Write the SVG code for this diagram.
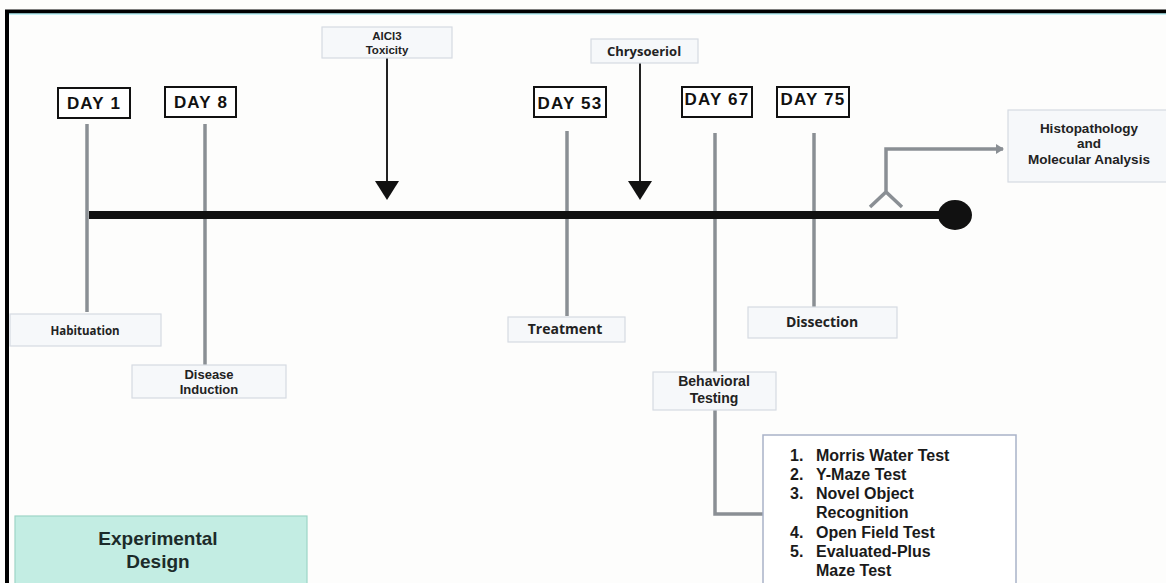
<svg xmlns="http://www.w3.org/2000/svg" width="1166" height="583" viewBox="0 0 1166 583">
<style>
.lbl{fill:#f6f8fa;stroke:#d6dbe2;stroke-width:1.2}
.day{fill:#fff;stroke:#111;stroke-width:2}
.dt{font-family:"Liberation Sans",Arial,sans-serif;font-weight:bold;font-size:17px;letter-spacing:1.2px;fill:#111;text-anchor:middle}
.t{font-family:"Open Sans","Liberation Sans",sans-serif;font-weight:bold;fill:#222;text-anchor:middle}
.t2{font-family:"Liberation Sans",Arial,sans-serif;font-weight:bold;fill:#222;text-anchor:middle}
.vl{stroke:#8a8f94;stroke-width:3.5;fill:none}
.ar{stroke:#222;stroke-width:2;fill:none}
.li{font-family:"Liberation Sans",Arial,sans-serif;font-weight:bold;font-size:16px;fill:#1a1a1a}
</style>
<defs>
<marker id="gh" markerWidth="8" markerHeight="10" refX="7" refY="5" orient="auto" markerUnits="userSpaceOnUse">
<path d="M0,0 L8,5 L0,10 Z" fill="#8a8f94"/>
</marker>
</defs>
<rect x="0" y="0" width="1166" height="583" fill="#fdfdfc"/>
<path d="M7,583 V11.5 H1166" fill="none" stroke="#000" stroke-width="4"/>
<line x1="9" y1="14" x2="1166" y2="14" stroke="#8ee6ee" stroke-width="1"/>

<g id="connectors">
<line class="vl" x1="87" y1="124" x2="87" y2="312"/>
<line class="vl" x1="205" y1="124" x2="205" y2="365"/>
<line class="vl" x1="567" y1="131" x2="567" y2="316"/>
<line class="vl" x1="715" y1="133" x2="715" y2="372"/>
<line class="vl" x1="814" y1="133" x2="814" y2="307"/>
<path class="vl" d="M715,410 V514 H763"/>
<path class="vl" d="M870,207 L886,192 L902,207 M886,192 V149 H1003" marker-end="url(#gh)" stroke-width="3"/>
<line class="ar" x1="387" y1="58" x2="387" y2="182"/>
<path d="M375,181 L399,181 L387,200 Z" fill="#111"/>
<line class="ar" x1="640" y1="63" x2="640" y2="182"/>
<path d="M628,181 L652,181 L640,200 Z" fill="#111"/>
</g>

<g id="timeline">
<line x1="89" y1="215" x2="955" y2="215" stroke="#111" stroke-width="8"/>
<ellipse cx="955" cy="215" rx="17" ry="15" fill="#111"/>
</g>

<g id="day1"><rect class="day" x="58" y="88" width="72" height="30"/><text class="dt" x="94" y="109">DAY 1</text></g>
<g id="day8"><rect class="day" x="165" y="87" width="71" height="30"/><text class="dt" x="201" y="108">DAY 8</text></g>
<g id="day53"><rect class="day" x="534" y="87" width="72" height="30"/><text class="dt" x="570" y="109">DAY 53</text></g>
<g id="day67"><rect class="day" x="682" y="87" width="70" height="30"/><text class="dt" x="717" y="105">DAY 67</text></g>
<g id="day75"><rect class="day" x="777" y="87" width="72" height="30"/><text class="dt" x="813" y="105">DAY 75</text></g>

<g id="alcl3"><rect class="lbl" x="322" y="27" width="130" height="31"/><text class="t2" font-size="11.5" x="387" y="40">AlCl3</text><text class="t2" font-size="11.5" x="387" y="54">Toxicity</text></g>
<g id="chrysoeriol"><rect class="lbl" x="591" y="39" width="107" height="24"/><text class="t" font-size="13" x="644" y="56">Chrysoeriol</text></g>
<g id="histo"><rect class="lbl" x="1008" y="110" width="160" height="72"/><text class="t2" font-size="13.5" x="1089" y="132.5">Histopathology</text><text class="t2" font-size="13.5" x="1089" y="148">and</text><text class="t2" font-size="13.5" x="1089" y="163.5">Molecular Analysis</text></g>
<g id="habituation"><rect class="lbl" x="10" y="314" width="151" height="32"/><text class="t" font-size="11.5" x="85" y="335">Habituation</text></g>
<g id="disease"><rect class="lbl" x="132" y="365" width="154" height="33"/><text class="t2" font-size="13" x="209" y="379">Disease</text><text class="t2" font-size="13" x="209" y="394">Induction</text></g>
<g id="treatment"><rect class="lbl" x="508" y="317" width="117" height="25"/><text class="t" font-size="14" x="565" y="334">Treatment</text></g>
<g id="dissection"><rect class="lbl" x="748" y="307" width="149" height="31"/><text class="t" font-size="14" x="822" y="327">Dissection</text></g>
<g id="behavioral"><rect class="lbl" x="653" y="372" width="123" height="38"/><text class="t2" font-size="14" x="714" y="386">Behavioral</text><text class="t2" font-size="14" x="714" y="402.5">Testing</text></g>

<g id="tests">
<rect x="763" y="435" width="253" height="160" fill="#fff" stroke="#a9b3c8" stroke-width="1.5"/>
<text class="li"><tspan x="790" y="461">1.</tspan><tspan x="816" y="461">Morris Water Test</tspan>
<tspan x="790" y="480">2.</tspan><tspan x="816" y="480">Y-Maze Test</tspan>
<tspan x="790" y="499">3.</tspan><tspan x="816" y="499">Novel Object</tspan>
<tspan x="816" y="518">Recognition</tspan>
<tspan x="790" y="538">4.</tspan><tspan x="816" y="538">Open Field Test</tspan>
<tspan x="790" y="557">5.</tspan><tspan x="816" y="557">Evaluated-Plus</tspan>
<tspan x="816" y="576">Maze Test</tspan></text>
</g>

<g id="title">
<rect x="15" y="516" width="292" height="70" fill="#c3ede3" stroke="#9dd5c6" stroke-width="1.2"/>
<text font-family="'Liberation Sans',Arial,sans-serif" font-weight="bold" font-size="19" fill="#1c2b2a" text-anchor="middle"><tspan x="158" y="545">Experimental</tspan><tspan x="158" y="568">Design</tspan></text>
</g>
</svg>
